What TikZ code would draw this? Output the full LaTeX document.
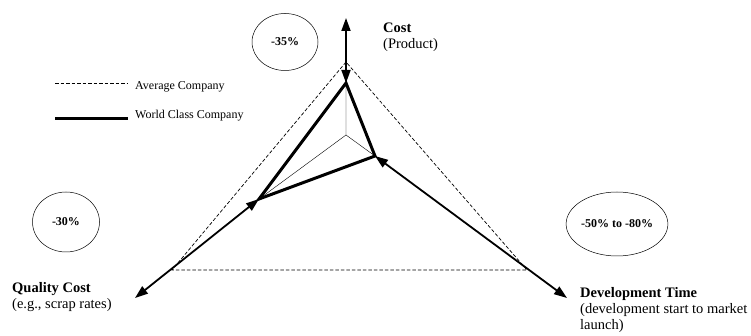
\documentclass[tikz,border=0pt]{standalone}
\usepackage{fontspec}
\setmainfont{Liberation Serif}
\usetikzlibrary{arrows.meta,shapes.geometric}
\begin{document}
\begin{tikzpicture}[x=1pt,y=-1pt,
  axis/.style={line width=1.8pt,{Triangle[length=13pt,width=9pt]}-{Triangle[length=13pt,width=9pt]}},
  average/.style={line width=0.7pt,dash pattern=on 3.5pt off 2pt},
  worldclass/.style={line width=3pt,line join=miter},
  spoke/.style={line width=0.4pt},
  bubble/.style={draw,ellipse,line width=0.5pt,inner sep=0pt,font=\fontsize{12}{14}\selectfont\bfseries},
  axislabel/.style={inner sep=0pt,anchor=north west,align=left,font=\fontsize{14.5}{16}\selectfont},
  legendtext/.style={inner sep=0pt,anchor=west,font=\fontsize{12}{14}\selectfont}]
\useasboundingbox (0,0) rectangle (751,336);
% centre, world-class points, average points and axis tips
\coordinate (O) at (346,135);
\coordinate (wT) at (346,83);
\coordinate (wL) at (259,199);
\coordinate (wR) at (375,156);
\coordinate (aT) at (346,62);
\coordinate (aL) at (172,270);
\coordinate (aR) at (527,270);
\coordinate (tT) at (346,18);
\coordinate (tL) at (135,298);
\coordinate (tR) at (567,298);
% spokes
\draw[spoke] (O) -- (wT) (O) -- (wL) (O) -- (wR);
% average company
\draw[average] (aT) -- (aL) -- (aR) -- cycle;
% world class company
\draw[worldclass] (wT) -- (wR) -- (wL) -- cycle;
% improvement axes
\draw[axis] (wT) -- (tT);
\draw[axis] (wL) -- (tL);
\draw[axis] (wR) -- (tR);
% improvement bubbles
\node[bubble,minimum width=66pt,minimum height=57pt] (bT) at (285,42) {-35\%};
\node[bubble,minimum width=67pt,minimum height=60pt] (bL) at (66,222) {-30\%};
\node[bubble,minimum width=88pt,minimum height=64pt] (bR) at (617,224) {-50\% to -80\%};
% axis labels
\node[axislabel] (lT) at (383,23) {\textbf{Cost}\\(Product)};
\node[axislabel] (lL) at (12,282) {\textbf{Quality Cost}\\(e.g., scrap rates)};
\node[axislabel] (lR) at (580,287) {\textbf{Development Time}\\(development start to market\\launch)};
% legend
\coordinate (g1a) at (55,83);
\coordinate (g1b) at (128,83);
\coordinate (g2a) at (55,119);
\coordinate (g2b) at (128,119);
\draw[average] (g1a) -- (g1b);
\draw[line width=3pt] (g2a) -- (g2b);
\node[legendtext] (t1) at (135,87) {Average Company};
\node[legendtext] (t2) at (135,116) {World Class Company};
\end{tikzpicture}
\end{document}
